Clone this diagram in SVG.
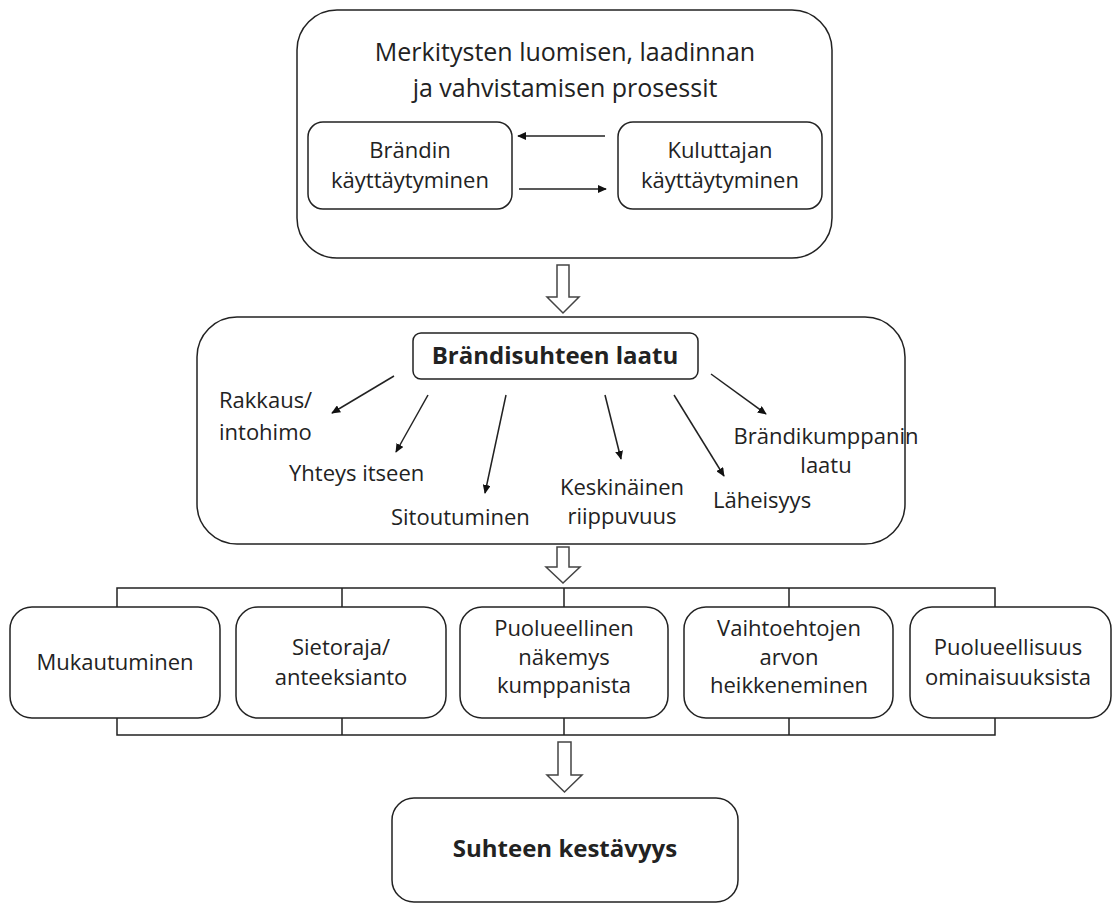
<svg xmlns="http://www.w3.org/2000/svg" width="1113" height="905" viewBox="0 0 1113 905">
<style>
.box{fill:#fff;stroke:#222;stroke-width:1.5}
.t{font-family:"Open Sans","Noto Sans",sans-serif;font-size:22px;fill:#222}
.c{text-anchor:middle}
.b{font-weight:bold;font-size:24px}
.ttl{font-size:25px}
.ln{stroke:#222;stroke-width:1.5;fill:none}
.hol{fill:#fff;stroke:#444;stroke-width:1.5}
</style>
<defs>
<marker id="ah" viewBox="0 0 10 10" refX="9" refY="5" markerWidth="9" markerHeight="8" orient="auto" markerUnits="userSpaceOnUse" preserveAspectRatio="none">
<path d="M0,0 L10,5 L0,10 z" fill="#111"/>
</marker>
</defs>
<rect width="1113" height="905" fill="#fff"/>

<g id="top">
<rect class="box" x="297" y="10" width="535" height="248" rx="40"/>
<text class="t c ttl" x="565" y="61">Merkitysten luomisen, laadinnan</text>
<text class="t c ttl" x="565" y="97">ja vahvistamisen prosessit</text>
</g>
<g id="brand">
<rect class="box" x="308" y="122" width="204" height="87" rx="15"/>
<text class="t c" x="410" y="158">Brändin</text>
<text class="t c" x="410" y="188">käyttäytyminen</text>
</g>
<g id="consumer">
<rect class="box" x="618" y="122" width="204" height="87" rx="15"/>
<text class="t c" x="720" y="158">Kuluttajan</text>
<text class="t c" x="720" y="188">käyttäytyminen</text>
</g>

<g id="middle">
<rect class="box" x="197" y="317" width="708" height="227" rx="40"/>
</g>
<g id="quality">
<rect class="box" x="413" y="333" width="285" height="46" rx="8"/>
<text class="t c b" x="555" y="364">Brändisuhteen laatu</text>
</g>
<g id="labels">
<text class="t" x="219" y="408">Rakkaus/</text>
<text class="t" x="219" y="440">intohimo</text>
<text class="t" x="289" y="481">Yhteys itseen</text>
<text class="t" x="391" y="525">Sitoutuminen</text>
<text class="t c" x="622" y="495">Keskinäinen</text>
<text class="t c" x="622" y="524">riippuvuus</text>
<text class="t" x="713" y="508">Läheisyys</text>
<text class="t c" x="826" y="444">Brändikumppanin</text>
<text class="t c" x="826" y="473">laatu</text>
</g>

<g id="r1"><rect class="box" x="10" y="607" width="210" height="111" rx="22"/>
<text class="t c" x="115" y="670">Mukautuminen</text></g>
<g id="r2"><rect class="box" x="236" y="607" width="210" height="111" rx="22"/>
<text class="t c" x="341" y="655">Sietoraja/</text>
<text class="t c" x="341" y="685">anteeksianto</text></g>
<g id="r3"><rect class="box" x="460" y="607" width="208" height="111" rx="22"/>
<text class="t c" x="564" y="636">Puolueellinen</text>
<text class="t c" x="564" y="665">näkemys</text>
<text class="t c" x="564" y="693">kumppanista</text></g>
<g id="r4"><rect class="box" x="684" y="607" width="209" height="111" rx="22"/>
<text class="t c" x="789" y="636">Vaihtoehtojen</text>
<text class="t c" x="789" y="665">arvon</text>
<text class="t c" x="789" y="693">heikkeneminen</text></g>
<g id="r5"><rect class="box" x="910" y="607" width="201" height="111" rx="22"/>
<text class="t c" x="1008" y="655">Puolueellisuus</text>
<text class="t c" x="1008" y="685">ominaisuuksista</text></g>

<g id="bottom">
<rect class="box" x="392" y="798" width="346" height="104" rx="22"/>
<text class="t c b" x="565" y="857">Suhteen kestävyys</text>
</g>

<g id="connectors">
<line class="ln" x1="605" y1="136" x2="518" y2="136" marker-end="url(#ah)"/>
<line class="ln" x1="519" y1="189" x2="606" y2="189" marker-end="url(#ah)"/>
<line class="ln" x1="394" y1="376" x2="332" y2="413" marker-end="url(#ah)"/>
<line class="ln" x1="428" y1="395" x2="396" y2="452" marker-end="url(#ah)"/>
<line class="ln" x1="506" y1="395" x2="485" y2="493" marker-end="url(#ah)"/>
<line class="ln" x1="605" y1="395" x2="621" y2="459" marker-end="url(#ah)"/>
<line class="ln" x1="674" y1="395" x2="724" y2="476" marker-end="url(#ah)"/>
<line class="ln" x1="711" y1="374" x2="766" y2="414" marker-end="url(#ah)"/>
<polygon class="hol" points="557,265 569,265 569,297 579,297 563,313 547,297 557,297"/>
<polygon class="hol" points="557,547 569,547 569,567 580,567 563,583 546,567 557,567"/>
<polygon class="hol" points="558,742 571,742 571,775 582,775 564.5,792 547,775 558,775"/>
<path class="ln" d="M117,607 V588 H995 V607 M342,588 V607 M564,588 V607 M789,588 V607"/>
<path class="ln" d="M117,718 V735 H995 V718 M342,718 V735 M564,718 V735 M789,718 V735"/>
</g>
</svg>
